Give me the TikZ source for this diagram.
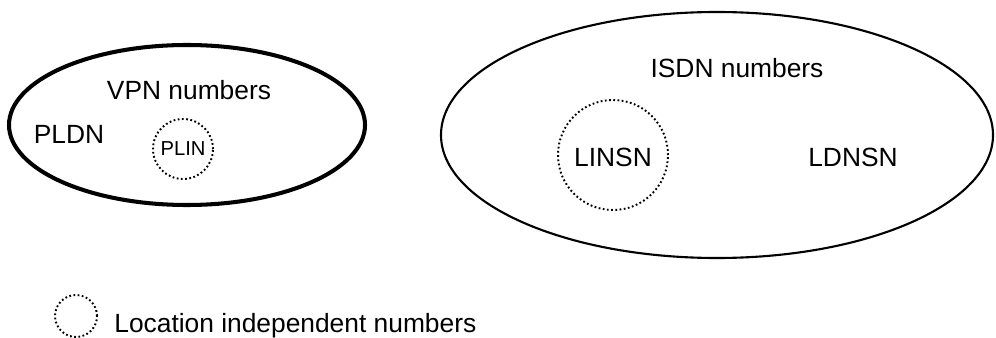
\documentclass[tikz,border=0pt]{standalone}
\usepackage{fontspec}
\setmainfont{Liberation Sans}
\tikzset{
    lbl/.style={font=\fontsize{15}{18}\selectfont, inner sep=0pt},
    small lbl/.style={font=\fontsize{11.5}{14}\selectfont, inner sep=0pt},
    indep/.style={dash pattern=on 1pt off 1.4pt, line width=1.1pt}
}
\begin{document}
\begin{tikzpicture}
    \useasboundingbox (0,0) rectangle (19.92,-6.76);
    % VPN side
    \draw[line width=2.3pt] (3.74,-2.5) ellipse (3.56 and 1.6);
    \node[lbl] (vpn) at (3.78,-1.8) {VPN numbers};
    \node[lbl] (pldn) at (1.38,-2.68) {PLDN};
    \draw[indep] (3.66,-2.98) circle(0.6);
    \node[small lbl] (plin) at (3.66,-2.98) {PLIN};
    % ISDN side
    \draw[line width=1.2pt] (14.34,-2.7) ellipse (5.52 and 2.46);
    \node[lbl] (isdn) at (14.74,-1.36) {ISDN numbers};
    \draw[indep] (12.26,-3.1) circle(1.1);
    \node[lbl] (linsn) at (12.26,-3.14) {LINSN};
    \node[lbl] (ldnsn) at (17.06,-3.14) {LDNSN};
    % legend
    \draw[indep] (1.52,-6.32) circle(0.42);
    \node[lbl, anchor=base west] (legend) at (2.28,-6.64) {Location independent numbers};
\end{tikzpicture}
\end{document}
